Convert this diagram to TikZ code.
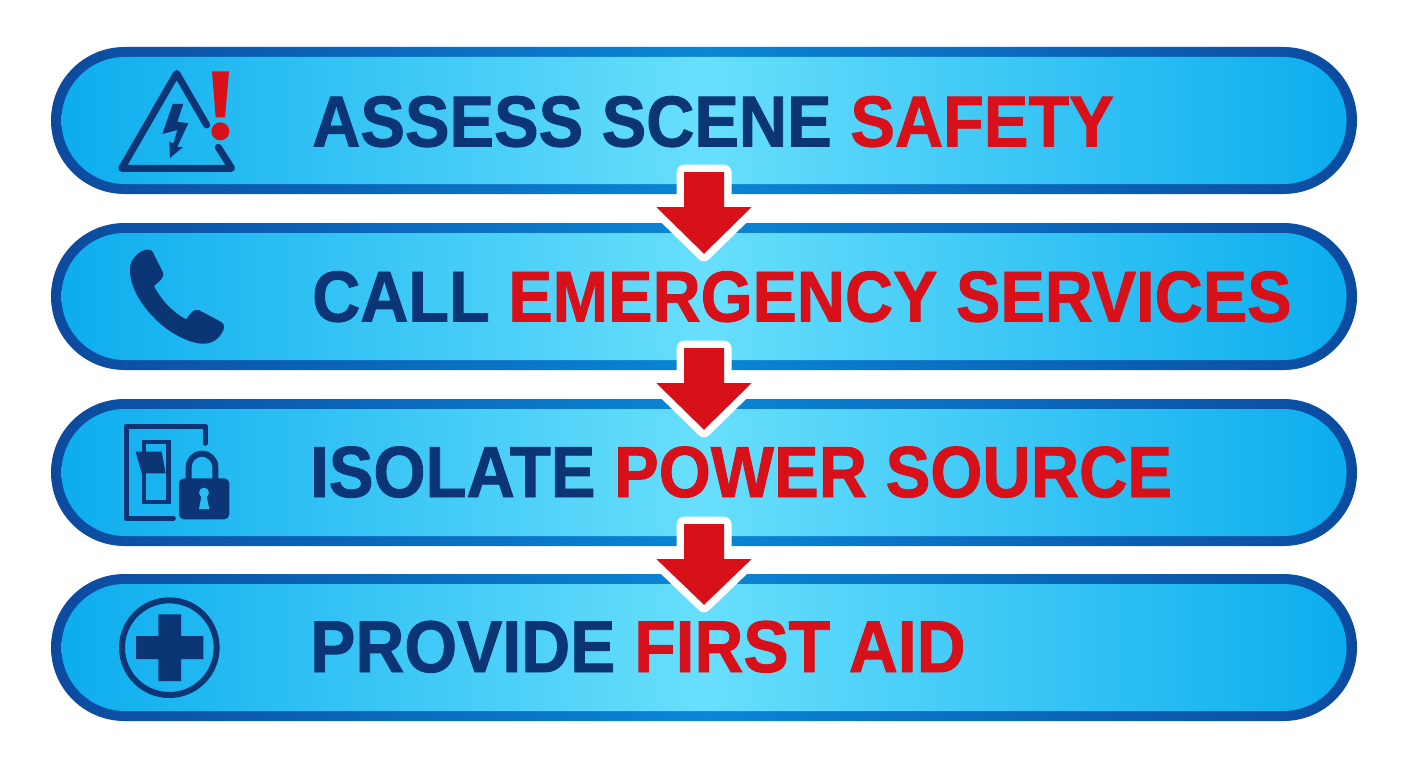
\documentclass[tikz,border=0pt]{standalone}
\usepackage{fontspec}
\setmainfont[BoldFeatures={FakeStretch=0.925,FakeBold=1.2}]{Liberation Sans}
\usetikzlibrary{calc}
\definecolor{navy}{HTML}{0C3576}
\definecolor{alarm}{HTML}{D8101A}
\definecolor{edgeDark}{HTML}{0C4A9E}
\definecolor{edgeMid}{HTML}{0A86D6}
\definecolor{fillSide}{HTML}{0CADEE}
\definecolor{fillMid}{HTML}{68DFFC}
\definecolor{holeBlue}{HTML}{2CBDF0}
\tikzset{
  pillouter/.style={rectangle,minimum width=1306pt,minimum height=147pt,rounded corners=73.5pt,inner sep=0pt,
    left color=edgeDark,right color=edgeDark,middle color=edgeMid,shading=axis},
  pillinner/.style={rectangle,minimum width=1285pt,minimum height=127pt,rounded corners=63.5pt,inner sep=0pt,
    left color=fillSide,right color=fillSide,middle color=fillMid},
  steptext/.style={anchor=base west,inner sep=0pt,font=\fontsize{#1pt}{72pt}\selectfont\bfseries,text=navy},
  iconline/.style={draw=navy,line width=5pt,line join=round,line cap=round},
  iconfill/.style={fill=navy,draw=none},
  halo/.style={draw=white,fill=white,line width=15pt,line join=round},
  redhead/.style={fill=alarm,draw=none}
}
\newcommand{\red}[1]{\textcolor{alarm}{#1}}
\newcommand{\stepper}[3]{%
  \coordinate (#3top) at ($(#1.south)+(0,-22)$);
  \coordinate (#3tip) at ($(#2.north)+(0,31)$);
  \path[halo] ($(#3top)+(-20,0)$) -- ($(#3top)+(20,0)$) -- ($(#3top)+(20,35)$) -- ($(#3top)+(47.5,35)$) -- (#3tip) -- ($(#3top)+(-47.5,35)$) -- ($(#3top)+(-20,35)$) -- cycle;
  \path[redhead] ($(#3top)+(-20,0)$) -- ($(#3top)+(20,0)$) -- ($(#3top)+(20,35)$) -- ($(#3top)+(47.5,35)$) -- (#3tip) -- ($(#3top)+(-47.5,35)$) -- ($(#3top)+(-20,35)$) -- cycle;
}
\begin{document}
\begin{tikzpicture}[x=1pt,y=-1pt]
\useasboundingbox (0,0) rectangle (1408,768);
\fill[white] (0,0) rectangle (1408,768);
\foreach \n/\yy in {p1/120.5,p2/296.5,p3/472.5,p4/647.5}{
  \node[pillouter] (\n) at (704,\yy) {};
  \node[pillinner] (\n i) at (704,\yy) {};
}
\stepper{p1}{p2}{a1}
\stepper{p2}{p3}{a2}
\stepper{p3}{p4}{a3}
\node[steptext=72.2] (t1) at (312,146.5) {ASSESS SCENE \red{SAFETY}};
\node[steptext=72] (t2) at (312,321.5) {CALL \red{EMERGENCY SERVICES}};
\node[steptext=72.4] (t3) at (310,497) {ISOLATE \red{POWER SOURCE}};
\node[steptext=73.3] (t4) at (310,672) {PROVIDE \red{FIRST AID}};
\begin{scope}[x=0.33333pt,y=-0.33333pt,shift={(40pt,-30pt)}]
  \draw[iconline,line width=7pt] (500,285) -- (410,130) -- (245,415) -- (575,415) -- (535,352);
  \path[iconfill] (398,222) -- (430,222) -- (412,275) -- (445,280) -- (412,350) -- (428,352) -- (390,384) -- (388,335) -- (400,340) -- (412,300) -- (367,312) -- cycle;
  \path[redhead] (516,124) -- (567,124) -- (555,262) -- (527,262) -- cycle;
  \path[redhead] (541,304) circle (27);
\end{scope}
\begin{scope}[x=0.33333pt,y=-0.33333pt,shift={(100pt,-230pt)}]
  \path[iconfill] (152,60) .. controls (158,62) and (160,70) .. (165,80)
    -- (188,125) .. controls (195,140) and (185,148) .. (162,168)
    .. controls (180,205) and (215,245) .. (258,268)
    .. controls (272,250) and (280,236) .. (296,240)
    -- (362,275) .. controls (375,282) and (375,295) .. (365,310)
    .. controls (350,335) and (325,345) .. (295,340)
    .. controls (190,320) and (85,200) .. (90,115)
    .. controls (90,85) and (125,52) .. (152,60) -- cycle;
\end{scope}
\begin{scope}[x=0.33333pt,y=-0.33333pt,shift={(100pt,-410pt)}]
  \draw[iconline] (315,100) -- (315,48) -- (78,48) -- (78,325) -- (220,325);
  \draw[navy,line width=4.5pt] (132,96) rectangle (205,276);
  \path[iconfill] (107,125) -- (185,125) -- (197,190) -- (125,190) -- cycle;
  \draw[navy,line width=6pt] (266,215) -- (266,171) arc[start angle=180,end angle=360,radius=40] -- (346,215);
  \path[iconfill,rounded corners=5pt] (237,205) rectangle (388,328);
  \path[fill=holeBlue] (312,248) circle (15);
  \path[fill=holeBlue] (306,250) -- (318,250) -- (328,297) -- (297,297) -- cycle;
\end{scope}
\begin{scope}[x=0.33333pt,y=-0.33333pt,shift={(100pt,-585pt)}]
  \draw[navy,line width=6pt] (208,188) circle (142);
  \path[iconfill] (175,88) -- (243,88) -- (243,153) -- (310,153) -- (310,222) -- (243,222) -- (243,288) -- (175,288) -- (175,222) -- (108,222) -- (108,153) -- (175,153) -- cycle;
\end{scope}
\end{tikzpicture}
\end{document}
